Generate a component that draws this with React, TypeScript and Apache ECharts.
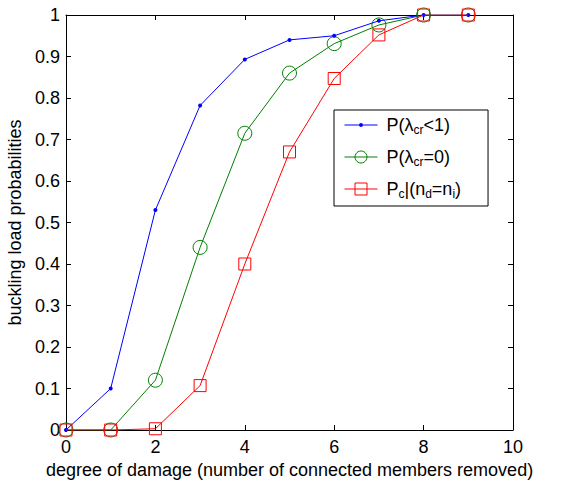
import React, { useEffect, useRef } from "react";
import * as echarts from "echarts";

const xValues = [0, 1, 2, 3, 4, 5, 6, 7, 8, 9];
const pLess1 = [0, 0.1, 0.53, 0.782, 0.893, 0.94, 0.95, 0.986, 1, 1];
const pZero = [0, 0, 0.12, 0.44, 0.715, 0.86, 0.931, 0.976, 1, 1];
const pCond = [0, 0, 0.003, 0.107, 0.4, 0.67, 0.847, 0.952, 1, 1];
const seriesNames = ["P(λ{s|cr}<1)", "P(λ{s|cr}=0)", "P{s|c}|(n{s|d}=n{s|i})"];

const FONT = "Liberation Sans, Arial, Helvetica, sans-serif";

export default function App() {
  const ref = useRef<HTMLDivElement>(null);
  useEffect(() => {
    const chart = echarts.init(ref.current!, null, { renderer: "svg" });
    const pairs = (ys: number[]) => xValues.map((x, i) => [x, ys[i]]);
    const axisCommon = {
      min: 0,
      axisLine: { show: true, onZero: false, lineStyle: { color: "#000", width: 1 } },
      axisTick: { show: true, inside: true, length: 5, lineStyle: { color: "#000" } },
      splitLine: { show: false },
    };
    chart.setOption({
      animation: false,
      textStyle: { fontFamily: FONT },
      grid: {
        left: 66,
        right: 53,
        top: 15,
        bottom: 52,
        containLabel: false,
        outerBoundsMode: "none",
      },
      xAxis: [
        {
          ...axisCommon,
          type: "value",
          max: 10,
          interval: 2,
          position: "bottom",
          axisLabel: { color: "#000", fontSize: 18, margin: 8, fontFamily: FONT },
          name: "degree of damage (number of connected members removed)",
          nameLocation: "middle",
          nameGap: 28,
          nameTextStyle: { color: "#000", fontSize: 18, fontFamily: FONT },
        },
        {
          ...axisCommon,
          type: "value",
          max: 10,
          interval: 2,
          position: "top",
          axisLabel: { show: false },
        },
      ],
      yAxis: [
        {
          ...axisCommon,
          type: "value",
          max: 1,
          interval: 0.1,
          position: "left",
          axisLabel: { color: "#000", fontSize: 18, margin: 6, fontFamily: FONT },
          name: "buckling load probabilities",
          nameLocation: "middle",
          nameGap: 42,
          nameTextStyle: { color: "#000", fontSize: 18, fontFamily: FONT },
        },
        {
          ...axisCommon,
          type: "value",
          max: 1,
          interval: 0.1,
          position: "right",
          axisLabel: { show: false },
        },
      ],
      legend: {
        orient: "vertical",
        left: 334,
        top: 110,
        padding: [6, 27, 6, 10],
        itemGap: 12,
        itemWidth: 33,
        itemHeight: 15,
        borderColor: "#000",
        borderWidth: 1,
        backgroundColor: "#fff",
        lineStyle: { width: 1 },
        itemStyle: { borderWidth: 1 },
        textStyle: {
          color: "#000",
          fontSize: 18,
          fontFamily: FONT,
          padding: [0, 0, 0, 4],
          rich: {
            s: { fontSize: 12, fontFamily: FONT, color: "#000", padding: [10, 0, 0, 0] },
          },
        },
        data: [
          {
            name: seriesNames[0],
            icon:
              "path://M0,0 M33,15 M0,7 L33,7 L33,8 L0,8 Z M14.5,7.5 A2,2 0 1 1 18.5,7.5 A2,2 0 1 1 14.5,7.5 Z",
          },
          { name: seriesNames[1] },
          { name: seriesNames[2] },
        ],
      },
      series: [
        {
          name: seriesNames[0],
          type: "line",
          data: pairs(pLess1),
          symbol: "circle",
          symbolSize: 4,
          itemStyle: { color: "#0000ff", borderWidth: 0 },
          lineStyle: { color: "#0000ff", width: 1 },
          z: 3,
        },
        {
          name: seriesNames[1],
          type: "line",
          data: pairs(pZero),
          symbol: "circle",
          symbolSize: 14,
          showAllSymbol: true,
          itemStyle: { color: "transparent", borderColor: "#008000", borderWidth: 1 },
          lineStyle: { color: "#008000", width: 1 },
          z: 2,
        },
        {
          name: seriesNames[2],
          type: "line",
          data: pairs(pCond),
          symbol: "rect",
          symbolSize: 12,
          itemStyle: { color: "transparent", borderColor: "#ff0000", borderWidth: 1 },
          lineStyle: { color: "#ff0000", width: 1 },
          z: 4,
        },
      ],
    });
    return () => chart.dispose();
  }, []);
  return (
    <div
      ref={ref}
      style={{ position: "absolute", left: 0, top: 0, width: 566, height: 482, background: "#fff" }}
    />
  );
}
